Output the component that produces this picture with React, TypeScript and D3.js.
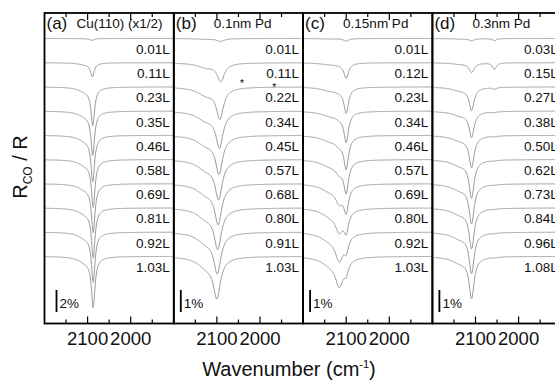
import React from "react";
import * as d3 from "d3";

// panel headers
const panelTags = ["(a)", "(b)", "(c)", "(d)"];
const panelNames = ["Cu(110) (x1/2)", "0.1nm Pd", "0.15nm Pd", "0.3nm Pd"];
const barLabels = ["2%", "1%", "1%", "1%"];
const barPercent = [2, 1, 1, 1];

// CO exposures, one per trace (top to bottom)
const exposuresA = ["0.01L", "0.11L", "0.23L", "0.35L", "0.46L", "0.58L", "0.69L", "0.81L", "0.92L", "1.03L"];
const exposuresB = ["0.01L", "0.11L", "0.22L", "0.34L", "0.45L", "0.57L", "0.68L", "0.80L", "0.91L", "1.03L"];
const exposuresC = ["0.01L", "0.12L", "0.23L", "0.34L", "0.46L", "0.57L", "0.69L", "0.80L", "0.92L", "1.03L"];
const exposuresD = ["0.03L", "0.15L", "0.27L", "0.38L", "0.50L", "0.62L", "0.73L", "0.84L", "0.96L", "1.08L"];

// band positions (cm-1) and depths (%)
const aMainCenter = [2090, 2089, 2088, 2088, 2088, 2087, 2087, 2087, 2087, 2087];
const aMainDepth = [0.16, 1.2, 3.3, 3.8, 4.0, 4.1, 4.2, 4.3, 4.3, 4.4];
const aWingDepth = [0.02, 0.16, 0.38, 0.42, 0.44, 0.46, 0.47, 0.48, 0.48, 0.5];

const bMainCenter = [2091, 2091, 2093, 2094, 2095, 2096, 2097, 2098, 2099, 2100];
const bMainDepth = [0.12, 0.8, 1.35, 1.55, 1.62, 1.66, 1.68, 1.7, 1.7, 1.72];
const bWingDepth = [0.03, 0.2, 0.34, 0.38, 0.4, 0.42, 0.42, 0.43, 0.43, 0.44];

const cLowDepth = [0.12, 0.68, 1.12, 1.32, 1.4, 1.35, 1.1, 0.85, 0.6, 0.5];
const cHighDepth = [0, 0.04, 0.1, 0.18, 0.3, 0.45, 0.68, 0.9, 1.1, 1.18];
const cWingDepth = [0.02, 0.08, 0.16, 0.2, 0.23, 0.26, 0.28, 0.3, 0.32, 0.32];

const dMainDepth = [0.1, 0.42, 1.0, 1.12, 1.38, 1.65, 1.7, 1.74, 1.76, 1.8];
const dLowDepth = [0.1, 0.3, 0.08, 0.04, 0.03, 0.02, 0.02, 0.02, 0.02, 0.02];
const dWingDepth = [0.02, 0.06, 0.15, 0.18, 0.22, 0.25, 0.27, 0.27, 0.28, 0.28];

// asterisks in panel (b): wavenumber and trace row
const starWavenumber = [2042, 1967];
const starRow = [1.8, 1.95];

type Band = { center: number[]; width: number; depth: number[] };

const constant = (v: number) => exposuresA.map(() => v);

const panelBands: Band[][] = [
  [
    { center: aMainCenter, width: 5, depth: aMainDepth },
    { center: constant(2105), width: 20, depth: aWingDepth },
  ],
  [
    { center: bMainCenter, width: 10, depth: bMainDepth },
    { center: constant(2125), width: 25, depth: bWingDepth },
  ],
  [
    { center: constant(2100), width: 6.5, depth: cLowDepth },
    { center: constant(2116), width: 11, depth: cHighDepth },
    { center: constant(2138), width: 25, depth: cWingDepth },
  ],
  [
    { center: constant(2109), width: 7, depth: dMainDepth },
    { center: constant(2056), width: 5, depth: dLowDepth },
    { center: constant(2135), width: 25, depth: dWingDepth },
  ],
];
const panelLabels = [exposuresA, exposuresB, exposuresC, exposuresD];

const W = 555;
const H = 380;
const top = 13;
const bottom = 323.5;
const left = 44.5;
const panelW = 129.3;
const pxPerUnit = 22;
const font = "'Liberation Sans', Arial, sans-serif";
const grid = d3.range(2200, 1899.5, -1);

export default function App() {
  const y = d3
    .scaleLinear()
    .domain([0, -(bottom - top) / pxPerUnit])
    .range([top, bottom]);
  const baseline = (i: number) => -(1.16 + 1.1 * i);

  return (
    <div style={{ position: "absolute", left: 0, top: 0 }}>
      <svg width={W} height={H} style={{ display: "block", background: "#fff" }} fontFamily={font}>
        <defs>
          {panelTags.map((_, p) => (
            <clipPath id={"clip" + p} key={p}>
              <rect x={left + p * panelW} y={top} width={panelW} height={bottom - top} />
            </clipPath>
          ))}
        </defs>
        {panelTags.map((tag, p) => {
          const x0 = left + p * panelW;
          const x = d3.scaleLinear().domain([2200, 1900]).range([x0, x0 + panelW]);
          const bands = panelBands[p];
          const traces = panelLabels[p].map((_, i) => {
            const pts: [number, number][] = grid.map((wn) => {
              let a = 0;
              for (const b of bands) {
                const d = wn - b.center[i];
                a += (b.depth[i] * b.width * b.width) / (d * d + b.width * b.width);
              }
              return [x(wn), y(baseline(i) - a / barPercent[p])];
            });
            return d3.line()(pts) as string;
          });
          const ticks = x.ticks(6).filter((t) => t > 1900 && t < 2200);
          const barX = x0 + (p === 0 ? 12 : 7);
          return (
            <g key={p}>
              <g clipPath={`url(#clip${p})`}>
                {traces.map((d, i) => (
                  <path key={i} d={d} fill="none" stroke="#9a9a9a" strokeWidth={1} />
                ))}
                {panelLabels[p].map((lab, i) => (
                  <text
                    key={lab + i}
                    x={x0 + panelW - 4}
                    y={y(baseline(i)) + 15.5}
                    textAnchor="end"
                    fontSize={13.5}
                    fill="#111"
                  >
                    {lab}
                  </text>
                ))}
                <text x={x0 + 2} y={29} fontSize={17} fill="#111">
                  {tag}
                </text>
                <text x={x0 + (p === 0 ? 32 : 40)} y={28} fontSize={13.5} fill="#111">
                  {panelNames[p]}
                </text>
              </g>
              {p === 1 &&
                starWavenumber.map((wn, k) => (
                  <text key={k} x={x(wn)} y={y(baseline(starRow[k])) + 5} textAnchor="middle" fontSize={10} fill="#000">
                    *
                  </text>
                ))}
              {ticks.map((t) => {
                const major = t % 100 === 0;
                const len = major ? 7 : 4;
                return (
                  <g key={t}>
                    <line x1={x(t)} x2={x(t)} y1={top} y2={top + len} stroke="#000" strokeWidth={1.2} />
                    <line x1={x(t)} x2={x(t)} y1={bottom} y2={bottom - len} stroke="#000" strokeWidth={1.2} />
                    {major && (
                      <text x={x(t)} y={345} textAnchor="middle" fontSize={18.5} fill="#111">
                        {t}
                      </text>
                    )}
                  </g>
                );
              })}
              {/* scale bar */}
              <line x1={barX} x2={barX} y1={290} y2={290 + pxPerUnit} stroke="#000" strokeWidth={1.8} />
              <text x={barX + 3} y={308} fontSize={13.5} fill="#111">
                {barLabels[p]}
              </text>
              <rect x={x0} y={top} width={panelW} height={bottom - top} fill="none" stroke="#000" strokeWidth={1.8} />
            </g>
          );
        })}
        <text x={289} y={376} textAnchor="middle" fontSize={20} fill="#111">
          Wavenumber (cm
          <tspan dy={-8} fontSize={11}>
            -1
          </tspan>
          <tspan dy={8}>)</tspan>
        </text>
        <text transform="translate(27,167) rotate(-90)" textAnchor="middle" fontSize={20} fill="#111">
          R
          <tspan dy={5} fontSize={12}>
            CO
          </tspan>
          <tspan dy={-5}> / R</tspan>
        </text>
      </svg>
    </div>
  );
}
